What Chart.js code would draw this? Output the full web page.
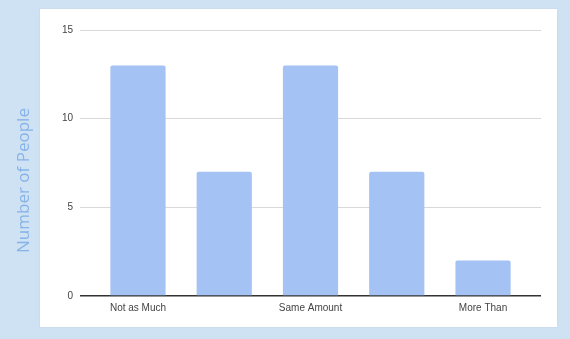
<!DOCTYPE html>
<html><head><meta charset="utf-8">
<script src="https://cdn.jsdelivr.net/npm/chart.js@4"></script>
<style>
html,body{margin:0;padding:0;background:#cfe2f3;width:570px;height:339px;overflow:hidden}
#panel{position:absolute;left:40px;top:9px;width:517px;height:318px;background:#fff;box-shadow:0 0 2px rgba(0,0,0,0.08)}
#wrap{position:absolute;left:0;top:0;width:570px;height:339px}
</style></head>
<body>
<div id="panel"></div>
<div id="wrap"><canvas id="c" width="570" height="339"></canvas></div>
<script>
const categories = ["Not as Much", "", "Same Amount", "", "More Than"];
const people = [13, 7, 13, 7, 2];
const yTicks = [0, 5, 10, 15];
const yTitle = "Number of People";

const yTitlePlugin = {
  id: 'yTitle',
  afterDraw(chart) {
    const ctx = chart.ctx;
    ctx.save();
    ctx.translate(24, 180.5);
    ctx.rotate(-Math.PI / 2);
    ctx.font = '17px "Open Sans"';
    ctx.fillStyle = '#86b3e8';
    ctx.textAlign = 'center';
    ctx.textBaseline = 'middle';
    ctx.fillText(yTitle, 0, 0);
    ctx.restore();
  }
};

const data = people.map((v, i) => ({x: i, y: v}));
new Chart(document.getElementById('c'), {
  type: 'bar',
  data: { datasets: [{ data, backgroundColor: '#a4c2f4', borderRadius: 2, borderSkipped: 'bottom',
    barPercentage: 0.64, categoryPercentage: 1 }] },
  options: {
    responsive: false, animation: false,
    layout: { padding: { top: 30, right: 29, bottom: 13, left: 16 } },
    plugins: { legend: { display: false }, tooltip: { enabled: false } },
    scales: {
      x: { type: 'linear', min: -0.672, max: 4.672, offset: false,
        afterBuildTicks: s => { s.ticks = categories.map((c, i) => ({value: i})); },
        afterFit: s => { s.height = 30; },
        grid: { display: false, drawTicks: false },
        border: { display: false },
        ticks: { autoSkip: false, maxRotation: 0, padding: 6, color: '#444',
          font: { family: 'Liberation Sans', size: 10 },
          callback: v => categories[v] ?? '' } },
      y: { min: 0, max: 15,
        afterBuildTicks: s => { s.ticks = yTicks.map(v => ({value: v})); },
        afterFit: s => { s.width = 80 - 16; },
        grid: { color: c => c.tick.value === 0 ? '#333' : '#d9d9d9', lineWidth: c => c.tick.value === 0 ? 1.5 : 1, drawTicks: false },
        border: { display: false },
        ticks: { padding: 7, color: '#444', font: { family: 'Liberation Sans', size: 10 } },
        title: { display: false } }
    }
  },
  plugins: [yTitlePlugin]
});
</script>
</body></html>
